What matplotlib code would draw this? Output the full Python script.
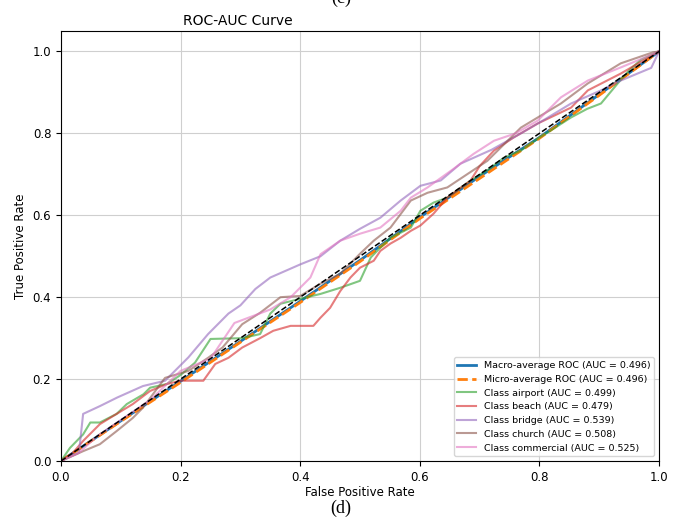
import numpy as np
import matplotlib
matplotlib.use('Agg')
import matplotlib.pyplot as plt

# macro / micro averages
macro_fpr = [0, 0.1, 0.2, 0.3, 0.4, 0.5, 0.6, 0.7, 0.8, 0.9, 1.0]
macro_tpr = [0, 0.098, 0.195, 0.292, 0.39, 0.49, 0.595, 0.695, 0.79, 0.895, 1.0]
micro_fpr = [0, 0.1, 0.2, 0.3, 0.4, 0.5, 0.6, 0.7, 0.8, 0.9, 1.0]
micro_tpr = [0, 0.097, 0.192, 0.29, 0.387, 0.487, 0.592, 0.69, 0.788, 0.893, 1.0]

class_names = ['airport', 'beach', 'bridge', 'church', 'commercial']
class_auc = [0.499, 0.479, 0.539, 0.508, 0.525]
class_colors = ['tab:green', 'tab:red', 'tab:purple', 'tab:brown', 'tab:pink']

airport_fpr = [0, 0.015, 0.037, 0.049, 0.065, 0.093, 0.11, 0.138, 0.149, 0.177, 0.20, 0.224,
               0.25, 0.303, 0.333, 0.35, 0.367, 0.40, 0.434, 0.467, 0.50, 0.518, 0.534, 0.551,
               0.585, 0.601, 0.623, 0.646, 0.685, 0.713, 0.74, 0.769, 0.80, 0.819, 0.853, 0.88,
               0.903, 0.931, 0.95, 0.97, 1.0]
airport_tpr = [0, 0.032, 0.065, 0.094, 0.094, 0.115, 0.139, 0.163, 0.179, 0.188, 0.21, 0.24,
               0.298, 0.30, 0.31, 0.36, 0.384, 0.396, 0.408, 0.423, 0.44, 0.497, 0.521, 0.545,
               0.57, 0.611, 0.631, 0.643, 0.685, 0.71, 0.74, 0.758, 0.79, 0.807, 0.839, 0.86,
               0.873, 0.922, 0.954, 0.98, 1.0]

beach_fpr = [0, 0.02, 0.037, 0.065, 0.093, 0.12, 0.149, 0.177, 0.20, 0.238, 0.258, 0.28, 0.303,
             0.333, 0.355, 0.384, 0.422, 0.434, 0.45, 0.467, 0.484, 0.50, 0.523, 0.534, 0.551,
             0.568, 0.585, 0.601, 0.623, 0.646, 0.685, 0.70, 0.724, 0.757, 0.797, 0.853, 0.881,
             0.936, 0.97, 1.0]
beach_tpr = [0, 0.02, 0.049, 0.09, 0.115, 0.139, 0.171, 0.188, 0.196, 0.196, 0.237, 0.252, 0.277,
             0.30, 0.318, 0.33, 0.33, 0.35, 0.374, 0.415, 0.448, 0.472, 0.489, 0.513, 0.531,
             0.545, 0.562, 0.575, 0.604, 0.643, 0.685, 0.72, 0.758, 0.79, 0.824, 0.863, 0.905,
             0.946, 0.975, 1.0]

bridge_fpr = [0, 0.015, 0.03, 0.037, 0.065, 0.094, 0.137, 0.174, 0.213, 0.246, 0.28, 0.30, 0.325,
              0.35, 0.40, 0.434, 0.467, 0.50, 0.534, 0.568, 0.601, 0.635, 0.668, 0.72, 0.769,
              0.81, 0.853, 0.903, 0.936, 0.987, 1.0]
bridge_tpr = [0, 0.01, 0.02, 0.115, 0.134, 0.155, 0.183, 0.196, 0.253, 0.31, 0.36, 0.38, 0.42,
              0.448, 0.48, 0.50, 0.538, 0.567, 0.594, 0.636, 0.672, 0.685, 0.726, 0.76, 0.80,
              0.835, 0.873, 0.905, 0.929, 0.96, 1.0]

church_fpr = [0, 0.037, 0.065, 0.093, 0.12, 0.137, 0.174, 0.213, 0.246, 0.27, 0.303, 0.333, 0.367,
              0.40, 0.434, 0.467, 0.50, 0.523, 0.551, 0.585, 0.613, 0.646, 0.713, 0.769, 0.836,
              0.881, 0.936, 0.99, 1.0]
church_tpr = [0, 0.024, 0.041, 0.073, 0.105, 0.13, 0.203, 0.22, 0.252, 0.277, 0.334, 0.362, 0.40,
              0.403, 0.433, 0.457, 0.506, 0.538, 0.57, 0.636, 0.655, 0.668, 0.733, 0.814, 0.873,
              0.922, 0.971, 0.998, 1.0]

commercial_fpr = [0, 0.03, 0.06, 0.1, 0.15, 0.2, 0.25, 0.29, 0.35, 0.384, 0.417, 0.434, 0.467,
                  0.50, 0.534, 0.568, 0.585, 0.613, 0.657, 0.69, 0.724, 0.76, 0.797, 0.836, 0.881,
                  0.936, 0.992, 1.0]
commercial_tpr = [0, 0.02, 0.06, 0.1, 0.15, 0.22, 0.25, 0.337, 0.37, 0.40, 0.448, 0.505, 0.538,
                  0.555, 0.57, 0.611, 0.643, 0.668, 0.714, 0.75, 0.782, 0.80, 0.831, 0.888, 0.929,
                  0.961, 0.995, 1.0]

class_fpr = [airport_fpr, beach_fpr, bridge_fpr, church_fpr, commercial_fpr]
class_tpr = [airport_tpr, beach_tpr, bridge_tpr, church_tpr, commercial_tpr]

fig = plt.figure(figsize=(6.82, 5.18), dpi=100)
ax = fig.add_axes([61 / 682, 1 - 461 / 518, 598 / 682, 430 / 518])

ax.plot(macro_fpr, macro_tpr, color='tab:blue', lw=2,
        label='Macro-average ROC (AUC = 0.496)')
ax.plot(micro_fpr, micro_tpr, color='tab:orange', lw=2, ls='--',
        label='Micro-average ROC (AUC = 0.496)')

for name, auc, col, fx, ty in zip(class_names, class_auc, class_colors, class_fpr, class_tpr):
    ax.plot(fx, ty, color=col, lw=1.5, alpha=0.6,
            label=f'Class {name} (AUC = {auc:.3f})')

# chance line
ax.plot([0, 1], [0, 1], 'k--', lw=1.1)

ax.set_xlim(0, 1)
ax.set_ylim(0, 1.05)
ax.grid(True, color='#cfcfcf')
ax.tick_params(labelsize=8.5)
ax.set_xlabel('False Positive Rate', fontsize=8.5, labelpad=2)
ax.set_ylabel('True Positive Rate', fontsize=8.5)
ax.set_title('ROC-AUC Curve', fontsize=10, x=0.296, pad=4)
ax.legend(loc='lower right', fontsize=6.8)

# panel captions from the page
fig.text(0.5, 1.003, '(c)', ha='center', va='center', fontsize=13, family='Liberation Serif')
fig.text(0.5, 0.018, '(d)', ha='center', va='center', fontsize=13, family='Liberation Serif')

fig.savefig('out.png', dpi=100)
